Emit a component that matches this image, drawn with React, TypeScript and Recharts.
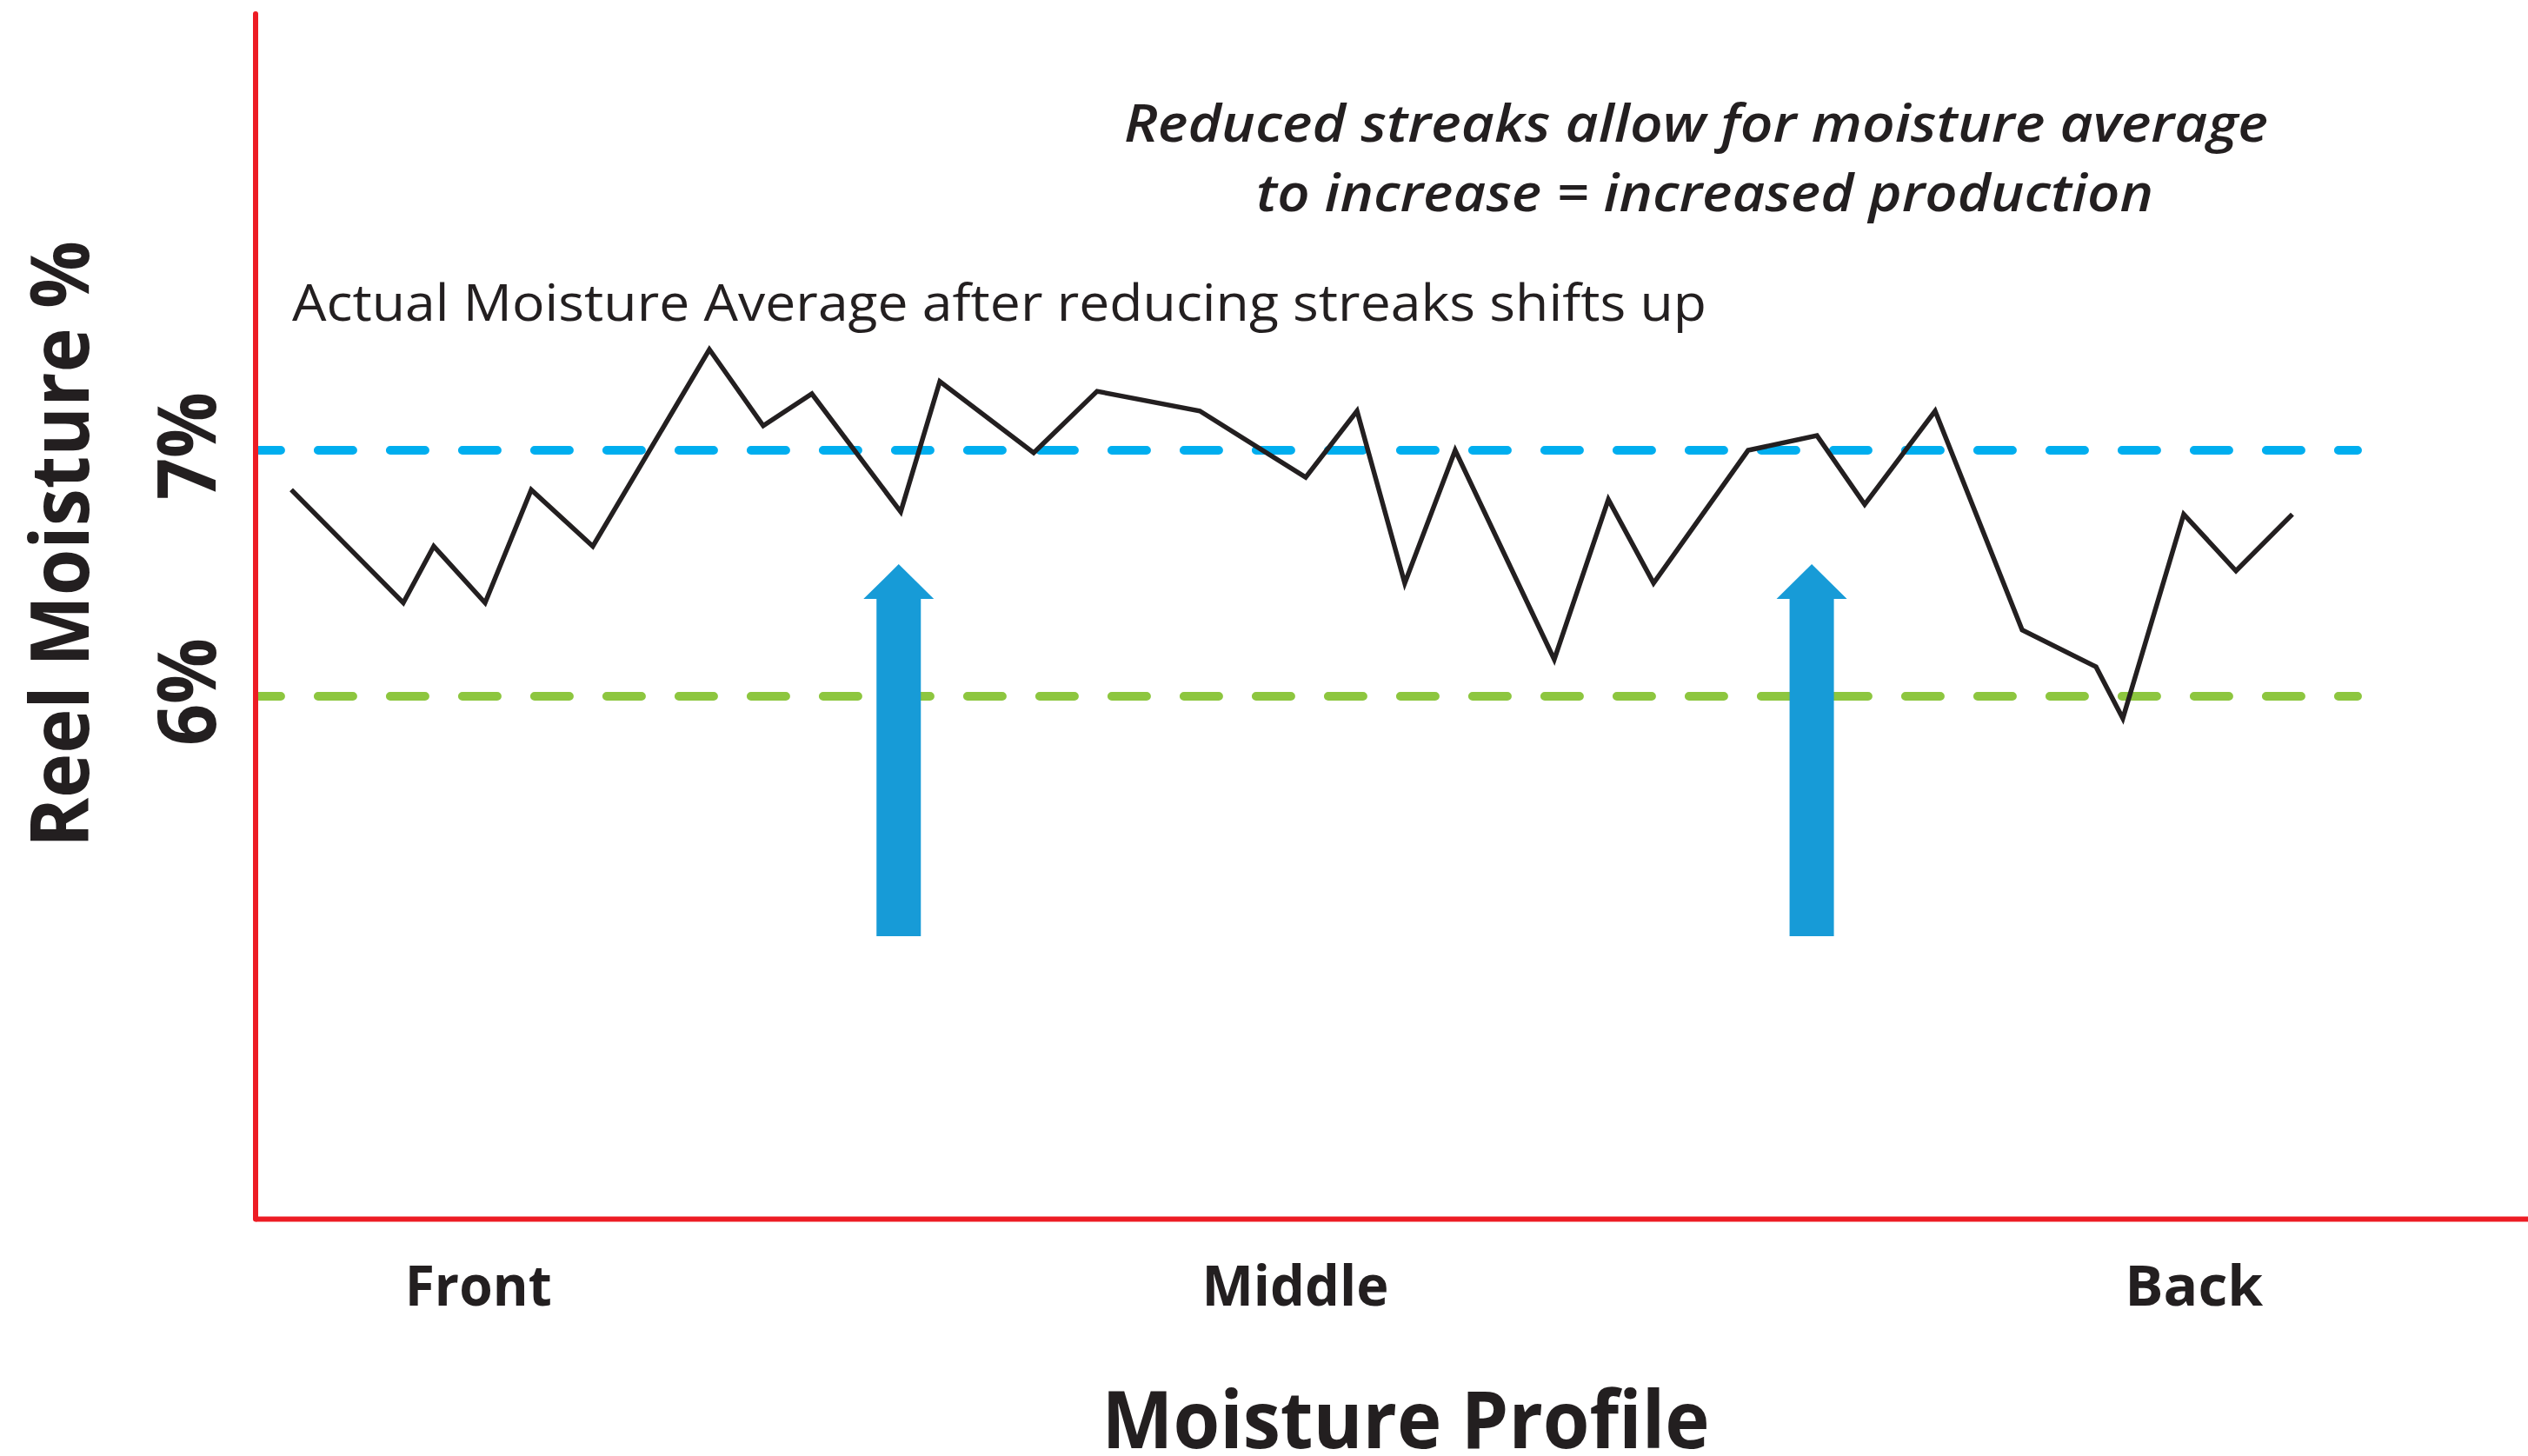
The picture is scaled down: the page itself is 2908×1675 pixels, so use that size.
import React from 'react'
import { LineChart, Line, XAxis, YAxis, ReferenceLine, Customized } from 'recharts'

// position across the reel (0 = front edge, 100 = back edge) and measured moisture %
const POSITION = [1.57, 6.5, 7.84, 10.1, 12.13, 14.84, 19.97, 22.34, 24.48, 28.39, 30.11, 34.24, 37.03, 41.55, 46.21, 48.47, 50.57, 52.79, 57.15, 59.53, 61.52, 65.68, 68.71, 70.81, 73.91, 77.74, 80.99, 82.17, 84.85, 87.15, 89.63]
const MOISTURE = [6.84, 6.38, 6.61, 6.38, 6.84, 6.61, 7.41, 7.1, 7.23, 6.75, 7.28, 6.99, 7.24, 7.16, 6.89, 7.16, 6.46, 7.0, 6.15, 6.8, 6.46, 7.0, 7.06, 6.78, 7.16, 6.27, 6.12, 5.91, 6.74, 6.51, 6.74]

const X_TICKS = [9.8, 45.75, 85.3]
const X_TICK_LABELS = ['Front', 'Middle', 'Back']
const Y_TICKS = [6, 7]

const OLD_AVERAGE = 6
const NEW_AVERAGE = 7
const AVG_FROM = 0.15
const AVG_TO = 92.5

const ARROW_X = [28.3, 68.48]
const ARROW_FROM = 5.025
const ARROW_TO = 6.537

const data = POSITION.map((p, i) => ({ position: p, moisture: MOISTURE[i] }))

const W = 2908
const H = 1675
const RED = '#ed1c24'
const INK = '#231f20'
const FONT = '"Open Sans", Lato, sans-serif'

// rendered widths of the tick labels, so they take the same room as in the original artwork
const X_TICK_WIDTH: Record<string, number> = { Front: 169, Middle: 215, Back: 159 }

function Arrow(props: any) {
    const { x1, y1, x2, y2 } = props
    const cx = (x1 + x2) / 2
    const top = Math.min(y1, y2)
    const bottom = Math.max(y1, y2)
    const shaft = 25.5
    const head = 40.5
    const headH = 40
    const pts = [
        [cx, top],
        [cx + head, top + headH],
        [cx + shaft, top + headH],
        [cx + shaft, bottom],
        [cx - shaft, bottom],
        [cx - shaft, top + headH],
        [cx - head, top + headH],
    ].map(p => p.join(',')).join(' ')
    return <polygon points={pts} fill="#179bd7" />
}

function XTick(props: any) {
    const { x, payload, index } = props
    const label = X_TICK_LABELS[index] ?? String(payload.value)
    return (
        <text x={x} y={1502} textAnchor="middle" fontFamily={FONT} fontWeight={700} fontSize={65} fill={INK}
            textLength={X_TICK_WIDTH[label]} lengthAdjust="spacingAndGlyphs">
            {label}
        </text>
    )
}

function YTick(props: any) {
    const { y, payload } = props
    const tx = 248
    const ty = y - 5
    return (
        <text x={tx} y={ty} transform={`rotate(-90, ${tx}, ${ty})`} textAnchor="middle" fontFamily={FONT} fontWeight={700} fontSize={93} fill={INK}
            textLength={124} lengthAdjust="spacingAndGlyphs">
            {payload.value}%
        </text>
    )
}

function Notes() {
    return (
        <g fontFamily={FONT} fill={INK}>
            <text x={336} y={369} fontSize={58} fontWeight={400} textLength={1627} lengthAdjust="spacingAndGlyphs">
                Actual Moisture Average after reducing streaks shifts up
            </text>
            <text x={1951} y={163} textAnchor="middle" fontSize={60} fontWeight={600} fontStyle="italic" textLength={1316} lengthAdjust="spacingAndGlyphs">
                Reduced streaks allow for moisture average
            </text>
            <text x={1961} y={243} textAnchor="middle" fontSize={60} fontWeight={600} fontStyle="italic" textLength={1032} lengthAdjust="spacingAndGlyphs">
                to increase = increased production
            </text>
            <text x={102} y={626} transform="rotate(-90, 102, 626)" textAnchor="middle" fontSize={93} fontWeight={700} textLength={698} lengthAdjust="spacingAndGlyphs">
                Reel Moisture %
            </text>
            <text x={1617} y={1666} textAnchor="middle" fontSize={92} fontWeight={700} textLength={699} lengthAdjust="spacingAndGlyphs">
                Moisture Profile
            </text>
        </g>
    )
}

export default function App() {
    return (
        <div style={{ position: 'absolute', left: 0, top: 0, width: W, height: H, background: '#fff' }}>
            <LineChart width={W} height={H} data={data} margin={{ top: 16, right: 0, bottom: 0, left: 0 }}>
                <XAxis
                    dataKey="position"
                    type="number"
                    domain={[0, 100]}
                    ticks={X_TICKS}
                    tick={<XTick />}
                    tickLine={false}
                    axisLine={{ stroke: RED, strokeWidth: 6 }}
                    height={272.5}
                    allowDataOverflow
                />
                <YAxis
                    type="number"
                    domain={[3.875, 8.774]}
                    ticks={Y_TICKS}
                    tick={<YTick />}
                    tickLine={false}
                    axisLine={{ stroke: RED, strokeWidth: 6, strokeLinecap: 'round' }}
                    width={294}
                    allowDataOverflow
                />
                <ReferenceLine
                    segment={[{ x: AVG_FROM, y: NEW_AVERAGE }, { x: AVG_TO, y: NEW_AVERAGE }]}
                    stroke="#00aeef"
                    strokeWidth={10}
                    strokeDasharray="40 43"
                    strokeDashoffset={15}
                    strokeLinecap="round"
                />
                <ReferenceLine
                    segment={[{ x: AVG_FROM, y: OLD_AVERAGE }, { x: AVG_TO, y: OLD_AVERAGE }]}
                    stroke="#8dc63f"
                    strokeWidth={10}
                    strokeDasharray="40 43"
                    strokeDashoffset={15}
                    strokeLinecap="round"
                />
                <Line
                    type="linear"
                    dataKey="moisture"
                    stroke={INK}
                    strokeWidth={5.5}
                    strokeLinejoin="miter"
                    strokeMiterlimit={10}
                    dot={false}
                    activeDot={false}
                    isAnimationActive={false}
                />
                {ARROW_X.map(ax => (
                    <ReferenceLine
                        key={ax}
                        segment={[{ x: ax, y: ARROW_FROM }, { x: ax, y: ARROW_TO }]}
                        shape={<Arrow />}
                    />
                ))}
                <Customized component={<Notes />} />
            </LineChart>
        </div>
    )
}
